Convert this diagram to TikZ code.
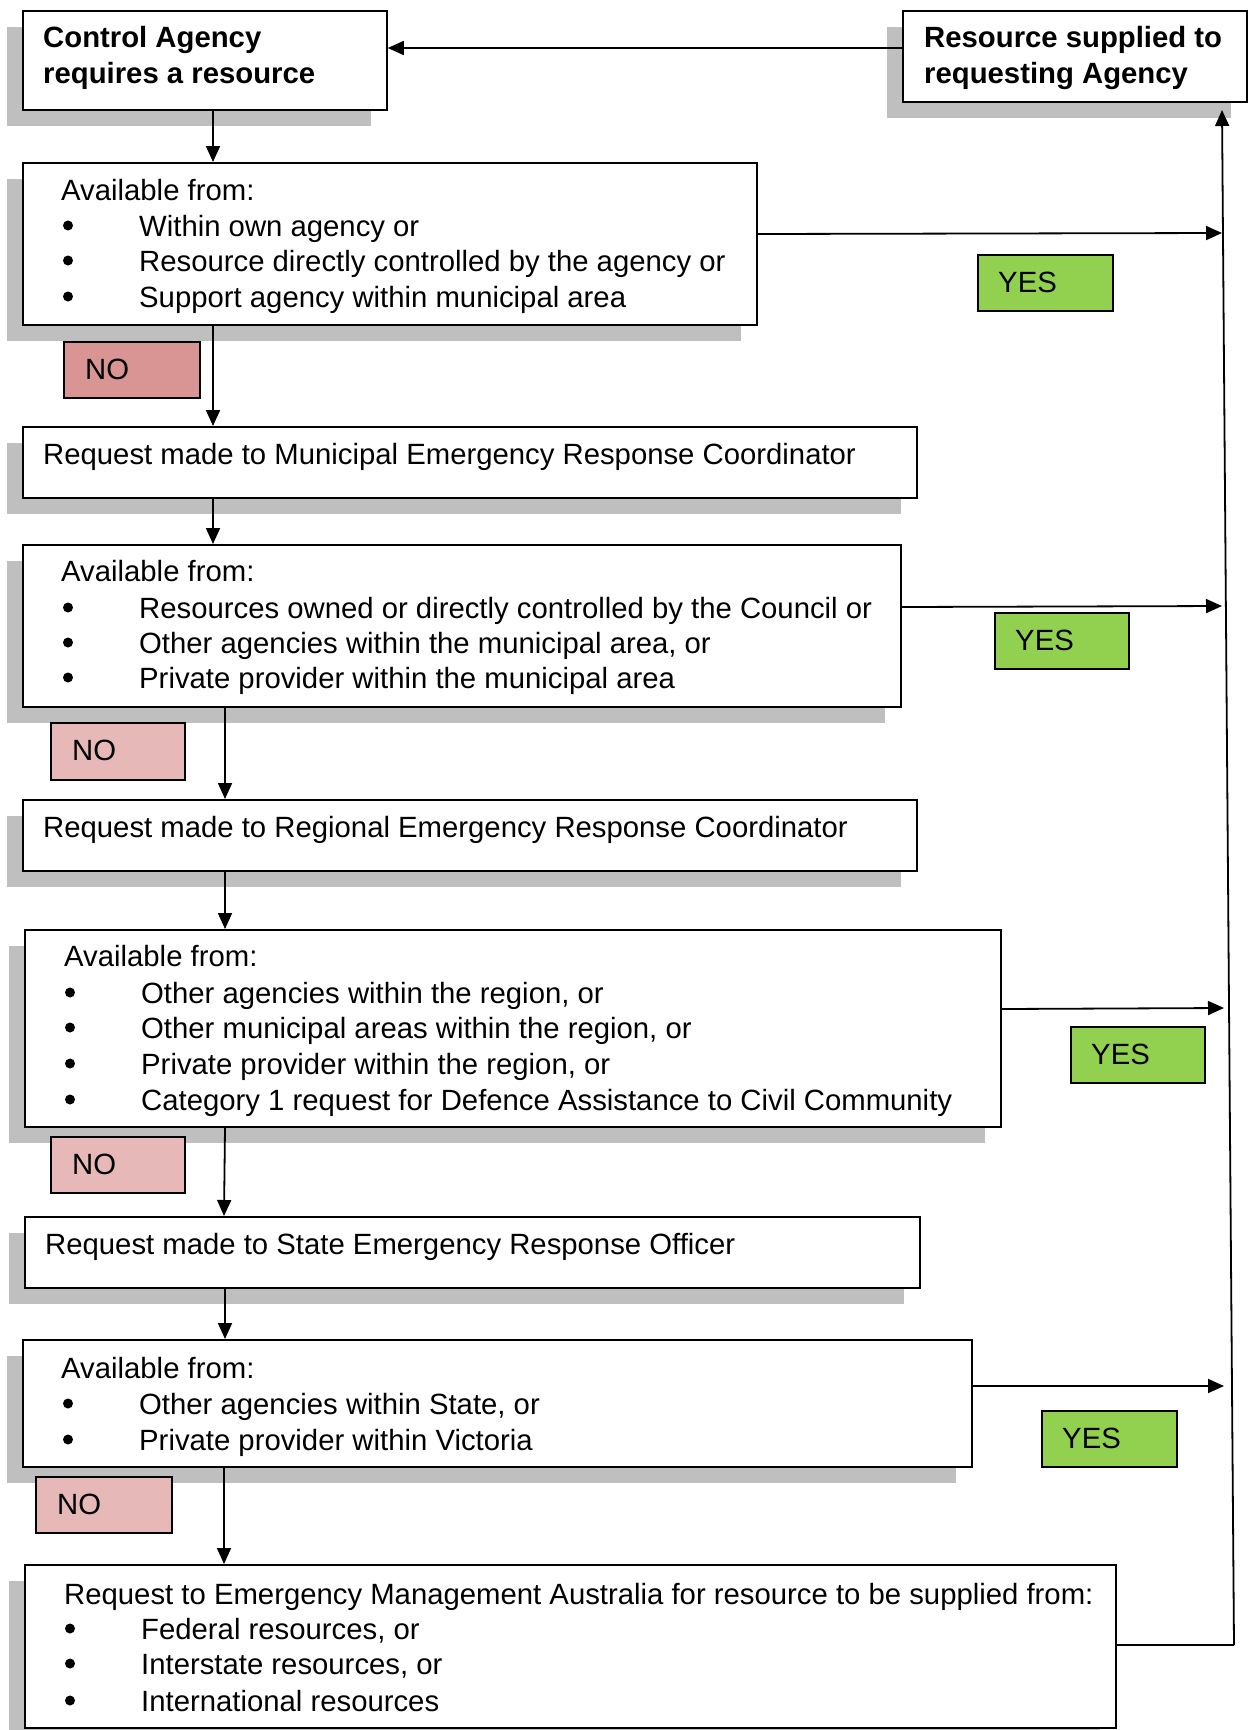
\documentclass[tikz,border=0pt]{standalone}
\usepackage{fontspec}
\setmainfont{Liberation Sans}
\usetikzlibrary{arrows.meta,shadows}
\definecolor{shadowgray}{HTML}{BFBFBF}
\definecolor{yesgreen}{HTML}{92D050}
\definecolor{nodark}{HTML}{D99594}
\definecolor{nolight}{HTML}{E6B8B7}
\newcommand\bitem[4]{%
  \node[dot] (#1b) at (#2,#3-10.5) {};
  \node[txt] (#1) at (#2+71,#3) {#4};}
\begin{document}
\begin{tikzpicture}[x=1pt,y=-1pt,
  box/.style={draw, fill=white, line width=1.8pt, inner sep=0pt, anchor=north west,
    general shadow={fill=shadowgray, shadow xshift=-16pt, shadow yshift=-16pt}},
  tag/.style={draw, line width=1.5pt, inner sep=0pt, anchor=north west},
  dot/.style={circle, fill=black, inner sep=0pt, minimum size=10pt},
  txt/.style={inner sep=0pt, anchor=base west, font=\fontsize{29.3}{36}\selectfont},
  btxt/.style={txt, font=\fontsize{29.3}{36}\selectfont\bfseries},
  arr/.style={line width=1.8pt, -{Triangle[length=16pt,width=14pt]}},
  ln/.style={line width=1.8pt}]
\useasboundingbox (0,0) rectangle (1253,1730);

% boxes
\node[box, minimum width=364pt, minimum height=99pt] (A) at (22,10) {};
\node[box, minimum width=344pt, minimum height=91pt] (B) at (902,10) {};
\node[box, minimum width=734pt, minimum height=162pt] (C) at (22,162) {};
\node[box, minimum width=894pt, minimum height=71pt] (D) at (22,426) {};
\node[box, minimum width=878pt, minimum height=162pt] (E) at (22,544) {};
\node[box, minimum width=894pt, minimum height=71pt] (F) at (22,799) {};
\node[box, minimum width=976pt, minimum height=197pt] (G) at (24,929) {};
\node[box, minimum width=895pt, minimum height=71pt] (H) at (24,1216) {};
\node[box, minimum width=949pt, minimum height=127pt] (I) at (22,1339) {};
\node[box, minimum width=1091pt, minimum height=163pt] (J) at (24,1564) {};

% texts
\node[btxt] (a1) at (43,47) {Control Agency};
\node[btxt] (a2) at (43,83) {requires a resource};
\node[btxt] (b1) at (924,47) {Resource supplied to};
\node[btxt] (b2) at (924,83) {requesting Agency};

\node[txt] (c0) at (61,200) {Available from:};
\bitem{c1}{68}{236}{Within own agency or}
\bitem{c2}{68}{271}{Resource directly controlled by the agency or}
\bitem{c3}{68}{307}{Support agency within municipal area}

\node[txt] (d0) at (43,464) {Request made to Municipal Emergency Response Coordinator};

\node[txt] (e0) at (61,581) {Available from:};
\bitem{e1}{68}{618}{Resources owned or directly controlled by the Council or}
\bitem{e2}{68}{653}{Other agencies within the municipal area, or}
\bitem{e3}{68}{688}{Private provider within the municipal area}

\node[txt] (f0) at (43,837) {Request made to Regional Emergency Response Coordinator};

\node[txt] (g0) at (64,966) {Available from:};
\bitem{g1}{70}{1003}{Other agencies within the region, or}
\bitem{g2}{70}{1038}{Other municipal areas within the region, or}
\bitem{g3}{70}{1074}{Private provider within the region, or}
\bitem{g4}{70}{1110}{Category 1 request for Defence Assistance to Civil Community}

\node[txt] (h0) at (45,1254) {Request made to State Emergency Response Officer};

\node[txt] (i0) at (61,1378) {Available from:};
\bitem{i1}{68}{1414}{Other agencies within State, or}
\bitem{i2}{68}{1450}{Private provider within Victoria}

\node[txt] (j0) at (64,1604) {Request to Emergency Management Australia for resource to be supplied from:};
\bitem{j1}{70}{1639}{Federal resources, or}
\bitem{j2}{70}{1674}{Interstate resources, or}
\bitem{j3}{70}{1711}{International resources}

% YES / NO tags
\node[tag, fill=yesgreen, minimum width=135pt, minimum height=56pt] (Y1) at (977,254) {};
\node[tag, fill=yesgreen, minimum width=134pt, minimum height=56pt] (Y2) at (994,612) {};
\node[tag, fill=yesgreen, minimum width=134pt, minimum height=56pt] (Y3) at (1070,1026) {};
\node[tag, fill=yesgreen, minimum width=135pt, minimum height=56pt] (Y4) at (1041,1410) {};
\node[tag, fill=nodark, minimum width=136pt, minimum height=56pt] (N1) at (63,341) {};
\node[tag, fill=nolight, minimum width=134pt, minimum height=57pt] (N2) at (50,722) {};
\node[tag, fill=nolight, minimum width=134pt, minimum height=56pt] (N3) at (50,1136) {};
\node[tag, fill=nolight, minimum width=136pt, minimum height=56pt] (N4) at (35,1476) {};
\node[txt] (y1) at (998,292) {YES};
\node[txt] (y2) at (1015,650) {YES};
\node[txt] (y3) at (1091,1064) {YES};
\node[txt] (y4) at (1062,1448) {YES};
\node[txt] (n1) at (85,379) {NO};
\node[txt] (n2) at (72,760) {NO};
\node[txt] (n3) at (72,1174) {NO};
\node[txt] (n4) at (57,1514) {NO};

% downward arrows
\draw[arr] ([xshift=191pt]A.south west) -- ([xshift=191pt]C.north west);
\draw[arr] ([xshift=191pt]C.south west) -- ([xshift=191pt]D.north west);
\draw[arr] ([xshift=191pt]D.south west) -- ([xshift=191pt]E.north west);
\draw[arr] ([xshift=203pt]E.south west) -- ([xshift=203pt]F.north west);
\draw[arr] ([xshift=203pt]F.south west) -- ([xshift=201pt]G.north west);
\draw[arr] ([xshift=201pt]G.south west) -- ([xshift=200pt]H.north west);
\draw[arr] ([xshift=201pt]H.south west) -- ([xshift=203pt]I.north west);
\draw[arr] ([xshift=202pt]I.south west) -- ([xshift=200pt]J.north west);

% return line
\coordinate (vb) at (1234,1645);
\coordinate (vt) at (1222,110);
\coordinate (r1) at (1222,233);
\coordinate (r2) at (1222,606);
\coordinate (r3) at (1224,1008);
\coordinate (r4) at (1224,1386);
\draw[ln] ([yshift=-81pt]J.north east) -- (vb);
\draw[arr] (vb) -- (vt);
\draw[arr] ([yshift=-72pt]C.north east) -- (r1);
\draw[arr] ([yshift=-63pt]E.north east) -- (r2);
\draw[arr] ([yshift=-80pt]G.north east) -- (r3);
\draw[arr] ([yshift=-47pt]I.north east) -- (r4);
\draw[arr] ([yshift=-38pt]B.north west) -- ([yshift=-38pt]A.north east);
\end{tikzpicture}
\end{document}
